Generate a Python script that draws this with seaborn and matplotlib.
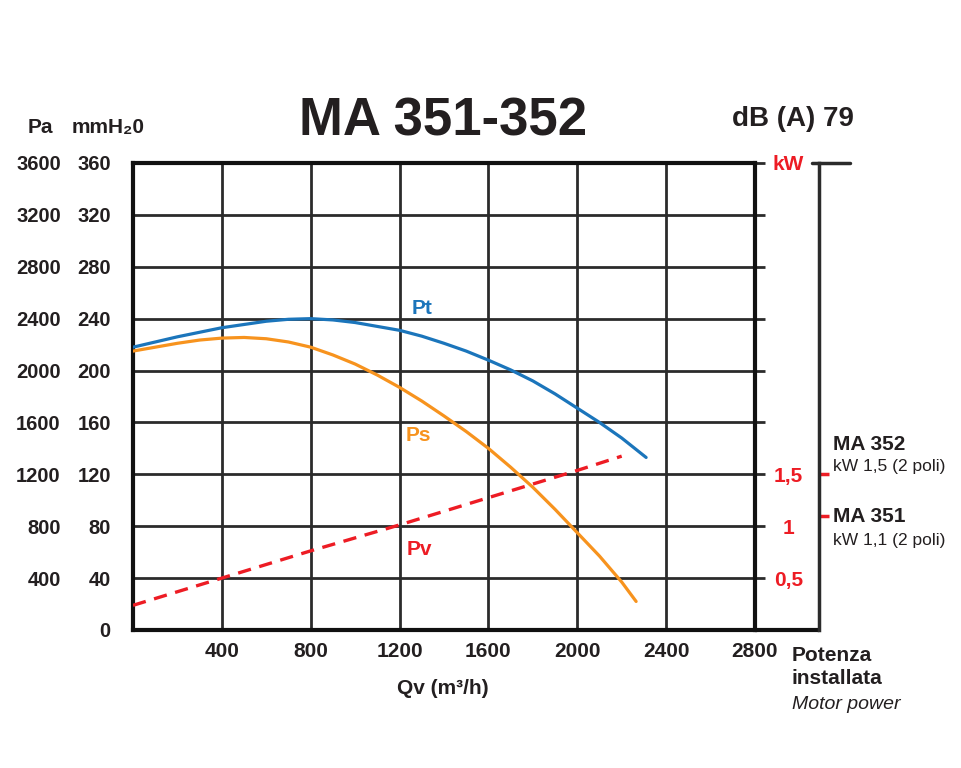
"""
Fan curve chart — MA 351-352
Pt / Ps / Pv pressure curves vs air flow, with motor power scale
"""

import matplotlib
matplotlib.use("Agg")
import matplotlib.pyplot as plt
from matplotlib import font_manager
import seaborn as sns

BLUE   = "#1b75bb"
ORANGE = "#f7931e"
RED    = "#ed1c24"
INK    = "#231f20"
GRID   = "#2b2b2b"

# ── Data ─────────────────────────────────────────────────────────────────────
pt_q  = [0, 100, 200, 300, 400, 500, 600, 700, 800, 900, 1000, 1100, 1200,
         1300, 1400, 1500, 1600, 1700, 1800, 1900, 2000, 2100, 2200, 2310]
pt_mm = [218, 222, 226, 229.5, 233, 235.5, 238, 239.5, 240, 239, 237, 234, 231,
         226.5, 221, 215, 208, 200.5, 192, 182, 171, 160, 148, 133]

ps_q  = [0, 100, 200, 300, 400, 500, 600, 700, 800, 900, 1000, 1100, 1200,
         1300, 1400, 1500, 1600, 1700, 1800, 1900, 2000, 2100, 2200, 2265]
ps_mm = [215, 218, 221, 223.5, 225, 225.5, 224.5, 222, 218, 212, 205, 196.5, 187,
         176.5, 165, 153, 140, 125.5, 110, 93, 75, 57, 37, 22]

pv_q  = [0, 400, 800, 1200, 1600, 2000, 2200]
pv_mm = [19, 40, 61, 81, 102, 123, 134]

x_ticks  = [0, 400, 800, 1200, 1600, 2000, 2400, 2800]
mm_ticks = [0, 40, 80, 120, 160, 200, 240, 280, 320, 360]
pa_ticks = [400, 800, 1200, 1600, 2000, 2400, 2800, 3200, 3600]
kw_ticks  = [0.5, 1, 1.5]
kw_labels = ["0,5", "1", "1,5"]
motor_kw  = [1.1, 1.5]          # MA 351, MA 352

sns.set_theme(style="white")

names = {f.name for f in font_manager.fontManager.ttflist}
NARROW = "Liberation Sans Narrow" if "Liberation Sans Narrow" in names else "Liberation Sans"
FAM = [NARROW, "DejaVu Sans"]
plt.rcParams["font.family"] = ["Liberation Sans", "DejaVu Sans"]
plt.rcParams["text.color"] = INK

fig = plt.figure(figsize=(9.61, 7.68), dpi=100)
fig.patch.set_facecolor("white")

# main chart area
ax = fig.add_axes([0.1384, 0.1797, 0.6472, 0.6081])
ax.set_facecolor("white")

sns.lineplot(x=pt_q, y=pt_mm, ax=ax, color=BLUE, lw=2.3, zorder=4)
sns.lineplot(x=ps_q, y=ps_mm, ax=ax, color=ORANGE, lw=2.3, zorder=4)
sns.lineplot(x=pv_q, y=pv_mm, ax=ax, color=RED, lw=2.4,
             linestyle=(0, (4, 2.6)), zorder=4)

ax.set_xlim(0, 2800)
ax.set_ylim(0, 360)
ax.set_xticks(x_ticks)
ax.set_xticklabels([""] + [str(v) for v in x_ticks[1:]],
                   fontsize=15, fontweight="bold", family=FAM)
ax.set_yticks(mm_ticks)
ax.set_yticklabels([str(v) for v in mm_ticks],
                   fontsize=14.5, fontweight="bold", family=FAM)
ax.grid(True, color=GRID, lw=2, zorder=1)
ax.set_axisbelow(True)
for s in ax.spines.values():
    s.set_color("#111111")
    s.set_linewidth(3)

ax.tick_params(axis="x", length=0, pad=9, colors=INK)
ax.tick_params(axis="y", left=False, right=True, labelright=False,
               length=7, width=2, color=GRID, direction="out", pad=9,
               labelcolor=INK)

# bottom line runs on to the kW axis
ax.axhline(0, xmin=1, xmax=1.103, color="#111111", lw=3, clip_on=False)

# Pa column
sec = ax.secondary_yaxis("left", functions=(lambda m: m * 10, lambda p: p / 10))
sec.set_yticks(pa_ticks)
sec.set_yticklabels([str(v) for v in pa_ticks], fontsize=14.5,
                    fontweight="bold", family=FAM)
sec.spines["left"].set_visible(False)
sec.tick_params(length=0, pad=52, labelcolor=INK)

# curve names
ax.text(1300, 248, "Pt", color=BLUE, fontsize=15, fontweight="bold",
        family=FAM, ha="center", va="center")
ax.text(1285, 150, "Ps", color=ORANGE, fontsize=15, fontweight="bold",
        family=FAM, ha="center", va="center")
ax.text(1290, 62, "Pv", color=RED, fontsize=15, fontweight="bold",
        family=FAM, ha="center", va="center")

# ── kW scale ────────────────────────────────────────────────────────────────
axk = fig.add_axes([819 / 961, 0.1797, 31 / 961, 0.6081])
axk.set_facecolor("none")
axk.set_xlim(0, 1)
axk.set_ylim(0, 4.5)
axk.set_xticks([])
for side in ["top", "right", "bottom"]:
    axk.spines[side].set_visible(False)
axk.spines["left"].set_color(GRID)
axk.spines["left"].set_linewidth(2.5)
axk.yaxis.remove_overlapping_locs = False
axk.set_yticks(kw_ticks + [4.5])
axk.set_yticklabels(kw_labels + ["kW"], fontsize=15, fontweight="bold",
                    family=FAM)
for lbl in axk.get_yticklabels():
    lbl.set_ha("center")
axk.tick_params(axis="y", which="major", length=0, pad=22, labelcolor=RED)
# motor power marks, pointing right from the kW axis
axk.set_yticks(motor_kw, minor=True)
axk.tick_params(axis="y", which="minor", left=True, right=False,
                length=7, width=2.5, color=RED, direction="in")
axk.axhline(4.5, xmin=-0.23, xmax=1, color=GRID, lw=2.5, clip_on=False)

# ── texts ────────────────────────────────────────────────────────────────────
fig.text(0.461, 0.842, "MA 351-352", fontsize=38, fontweight="bold",
         ha="center", va="center")
fig.text(0.825, 0.845, "dB (A) 79", fontsize=20, fontweight="bold",
         ha="center", va="center")
fig.text(0.0416, 0.8346, "Pa", fontsize=15, fontweight="bold",
         family=FAM, ha="center", va="center")
fig.text(0.1124, 0.8346, "mmH\u20820", fontsize=15, fontweight="bold",
         family=FAM, ha="center", va="center")

fig.text(0.867, 0.4206, "MA 352", fontsize=15, fontweight="bold",
         ha="left", va="center")
fig.text(0.867, 0.392, "kW 1,5 (2 poli)", fontsize=12.5,
         family=FAM, ha="left", va="center")
fig.text(0.867, 0.327, "MA 351", fontsize=15, fontweight="bold",
         ha="left", va="center")
fig.text(0.867, 0.2956, "kW 1,1 (2 poli)", fontsize=12.5,
         family=FAM, ha="left", va="center")

fig.text(0.461, 0.104, "Qv (m\u00b3/h)", fontsize=15, fontweight="bold",
         family=FAM, ha="center", va="center")
fig.text(0.824, 0.147, "Potenza", fontsize=15, fontweight="bold",
         family=FAM, ha="left", va="center")
fig.text(0.824, 0.117, "installata", fontsize=15, fontweight="bold",
         family=FAM, ha="left", va="center")
fig.text(0.824, 0.083, "Motor power", fontsize=14, style="italic",
         ha="left", va="center")

fig.savefig("out.png", dpi=100, facecolor="white")
